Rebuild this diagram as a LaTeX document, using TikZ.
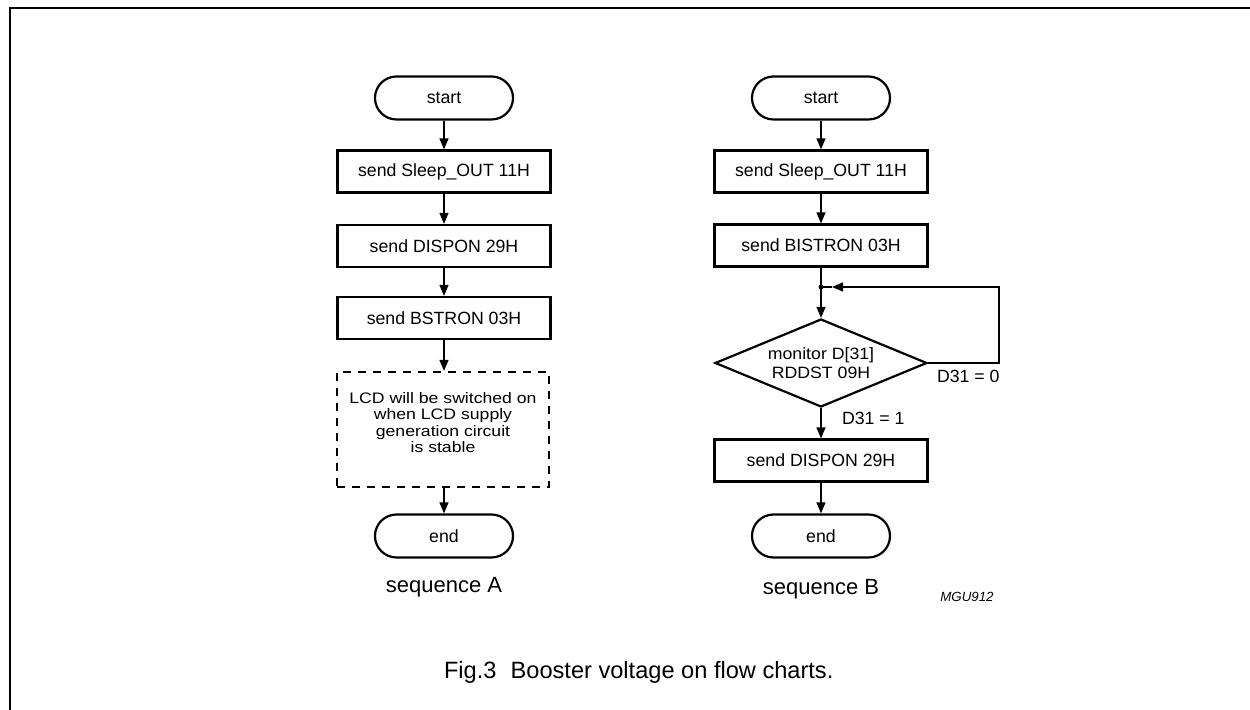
\documentclass[tikz,border=0pt]{standalone}
\usepackage{fontspec}
\setmainfont{Liberation Sans}
\newfontfamily\dashfont{Liberation Sans}[FakeStretch=1.16]
\newfontfamily\diafont{Liberation Sans}[FakeStretch=1.08]
\usetikzlibrary{arrows.meta,shapes.geometric}
\tikzset{
  boxtxt/.style={font=\fontsize{8.85}{10}\selectfont},
  pill/.style={draw, line width=1.1pt, rounded corners=10.75pt, minimum width=69pt, minimum height=21.5pt, inner sep=0pt, boxtxt},
  stepbox/.style={draw, line width=1.1pt, minimum width=106.5pt, minimum height=21pt, inner sep=0pt, boxtxt},
  dashbox/.style={draw, line width=1.1pt, dash pattern=on 4pt off 3.5pt, minimum width=106pt, minimum height=57.5pt, inner sep=0pt, align=center, text depth=7pt, font=\dashfont\fontsize{7.6}{8.3}\selectfont},
  decision/.style={draw, diamond, line width=1.1pt, minimum width=106pt, minimum height=44pt, aspect=2.4, inner sep=0pt, align=center, font=\diafont\fontsize{8.2}{9.5}\selectfont},
  flow/.style={line width=0.65pt, -{Triangle[length=5.5pt,width=4.5pt]}},
  plain/.style={line width=0.65pt},
  lbl/.style={font=\fontsize{11}{13}\selectfont},
  smalllbl/.style={font=\fontsize{8.85}{10}\selectfont}
}
\begin{document}
\begin{tikzpicture}[x=0.5pt,y=-0.5pt]
\useasboundingbox (0,0) rectangle (1250,710);
% frame
\draw[line width=0.8pt] (10,710) -- (10,8) -- (1250,8);

% sequence A
\node[pill] (sA) at (444,98) {start};
\node[stepbox] (a1) at (444,171.5) {send Sleep\_OUT 11H};
\node[stepbox] (a2) at (444,246) {send DISPON 29H};
\node[stepbox] (a3) at (444,318) {send BSTRON 03H};
\node[dashbox] (a4) at (443,429.5) {LCD will be switched on\\when LCD supply\\generation circuit\\is stable};
\node[pill] (eA) at (444,536) {end};
\node[lbl] (labA) at (444,587) {sequence A};

\draw[flow] (sA) -- (a1);
\draw[flow] (a1) -- (a2);
\draw[flow] (a2) -- (a3);
\draw[flow] (a3) -- (a4.north -| a3.south);
\draw[flow] (a4.south -| eA.north) -- (eA);

% sequence B
\node[pill] (sB) at (821,98) {start};
\node[stepbox] (b1) at (821,171.5) {send Sleep\_OUT 11H};
\node[stepbox] (b2) at (821,245.5) {send BISTRON 03H};
\coordinate (j) at (821,287);
\node[decision] (d) at (821,363) {monitor D[31]\\RDDST 09H};
\node[stepbox] (b3) at (821,460.5) {send DISPON 29H};
\node[pill] (eB) at (821,536) {end};
\node[lbl] (labB) at (821,589) {sequence B};
\node[font=\fontsize{6.65}{8}\selectfont\itshape] (mgu) at (967,597) {MGU912};

\coordinate (lt) at (999,287);
\coordinate (jr) at (832,287);

\draw[flow] (sB) -- (b1);
\draw[flow] (b1) -- (b2);
\draw[plain] (b2) -- (j);
\draw[flow] (j) -- (d.north);
\fill (j) circle (2.4);
\draw[flow] (d.east) -| (lt) -- (jr);
\draw[plain] (jr) -- (j);
\draw[flow] (d.south) -- (b3.north);
\draw[flow] (b3) -- (eB);
\node[smalllbl, anchor=west] (l0) at (930,376) {D31 = 0};
\node[smalllbl, anchor=west] (l1) at (835,418) {D31 = 1};

% caption
\node[font=\fontsize{11.8}{14}\selectfont, anchor=west] (cap) at (437,672) {Fig.3\hspace{0.6em}Booster voltage on flow charts.};
\end{tikzpicture}
\end{document}
